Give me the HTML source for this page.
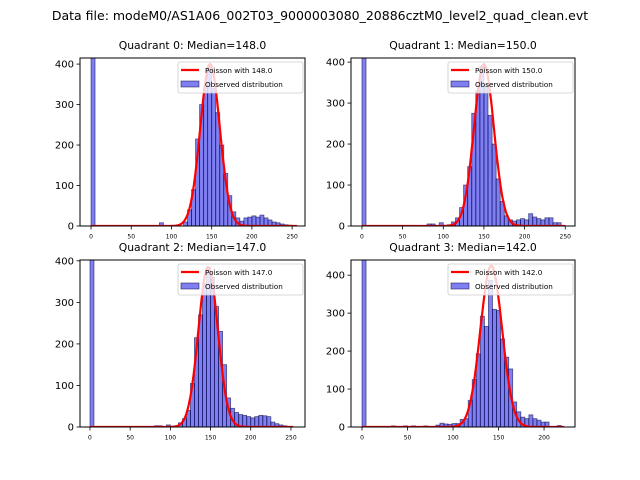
<!DOCTYPE html>
<html><head><meta charset="utf-8">
<style>
body{margin:0;background:#fff;}
svg{display:block;font-family:"DejaVu Sans","Liberation Sans",sans-serif;}
</style></head>
<body>
<svg id="fig" width="640" height="480" viewBox="0 0 640 480">
<text x="320" y="20" text-anchor="middle" font-size="12.5">Data file: modeM0/AS1A06_002T03_9000003080_20886cztM0_level2_quad_clean.evt</text>
</svg>
<script>
// Quadrant data
const titles = ["Quadrant 0: Median=148.0","Quadrant 1: Median=150.0","Quadrant 2: Median=147.0","Quadrant 3: Median=142.0"];
const medians = [148,150,147,142];
const peaks = [400,395,385,425];
const binW = [5,5,5,4.44];
const q0Bins = [0,85,115,120,125,130,135,140,145,150,155,160,165,170,175,180,185,190,195,200,205,210,215,220,225,230,235,240,245];
const q0Counts = [1000,8,10,40,90,215,300,345,395,340,280,200,130,75,35,20,12,20,22,25,22,27,20,15,10,8,5,3,2];
const q1Bins = [0,80,85,95,105,110,115,120,125,130,135,140,145,150,155,160,165,170,175,180,185,190,195,200,205,210,215,220,225,230,235,240];
const q1Counts = [1000,5,5,8,3,10,20,45,100,145,275,330,390,345,270,200,115,60,25,15,12,15,18,15,30,22,18,15,20,20,8,8];
const q2Bins = [0,80,85,95,100,105,110,115,120,125,130,135,140,145,150,155,160,165,170,175,180,185,190,195,200,205,210,215,220,225,230,235,240,245];
const q2Counts = [1000,3,3,5,2,3,10,20,40,105,215,270,345,385,360,290,230,150,70,45,35,30,28,25,22,25,28,27,25,12,8,5,3,1];
const q3Bins = [0,32.2,45.6,54.4,67.8,81.1,85.6,90,94.4,98.9,103.3,107.8,112.2,116.7,121.1,125.5,130,134.4,138.9,143.3,147.8,152.2,156.7,161.1,165.5,170,174.4,178.9,183.3,187.8,192.2,196.7,201.1,214.4];
const q3Counts = [1000,3,3,3,3,5,10,8,7,9,9,20,22,70,125,193,292,265,386,310,307,232,184,153,66,40,26,22,32,22,18,13,13,4];
const xTicks = [[0,50,100,150,200,250],[0,50,100,150,200,250],[0,50,100,150,200,250],[0,50,100,150,200]];
const yTicks = [[0,100,200,300,400],[0,100,200,300,400],[0,100,200,300,400],[0,100,200,300,400]];
const xMax = [256,250,253,222];

const allBins=[q0Bins,q1Bins,q2Bins,q3Bins];
const allCounts=[q0Counts,q1Counts,q2Counts,q3Counts];
const boxes=[
 {l:80,r:305,t:58,b:226,x0:-13.7,x1:266,y1:415},
 {l:351,r:575,t:58,b:226,x0:-13.5,x1:262,y1:410},
 {l:80,r:305,t:260,b:427,x0:-12.4,x1:267.5,y1:402},
 {l:351,r:575,t:260,b:427,x0:-12.1,x1:234,y1:440}
];
const NS="http://www.w3.org/2000/svg";
const svg=document.getElementById('fig');
function mk(tag,attrs,parent){const e=document.createElementNS(NS,tag);for(const k in attrs)e.setAttribute(k,attrs[k]);(parent||svg).appendChild(e);return e;}
boxes.forEach((B,qi)=>{
  const g=mk('g',{});
  
  
  const sx=v=>B.l+(v-B.x0)/(B.x1-B.x0)*(B.r-B.l);
  const sy=v=>B.b-v/B.y1*(B.b-B.t);
  const clipId='clip'+qi;
  const cp=mk('clipPath',{id:clipId},g);
  mk('rect',{x:B.l,y:B.t,width:B.r-B.l,height:B.b-B.t},cp);
  const bars=mk('g',{'clip-path':'url(#'+clipId+')'},g);
  allBins[qi].forEach((b,i)=>{
    const c=allCounts[qi][i];
    const r=mk('rect',{x:sx(b),y:sy(c),width:sx(b+binW[qi])-sx(b),height:sy(0)-sy(c),fill:'rgba(0,0,230,0.5)',stroke:'rgba(0,0,60,0.6)','stroke-width':0.8},bars);
    
    
  });
  // Poisson curve (normal approximation)
  const lam=medians[qi];let d='';
  for(let x=0;x<=xMax[qi];x+=1){const y=peaks[qi]*Math.exp(-(x-lam)*(x-lam)/(2*lam));d+=(x?'L':'M')+sx(x).toFixed(1)+','+sy(y).toFixed(1);}
  const p=mk('path',{d:d,fill:'none',stroke:'#ff0000','stroke-width':2.2},bars);
  
  
  const fr=mk('rect',{x:B.l,y:B.t,width:B.r-B.l,height:B.b-B.t,fill:'none',stroke:'#000','stroke-width':1},g);
  
  
  xTicks[qi].forEach(t=>{
    mk('line',{x1:sx(t),x2:sx(t),y1:B.b,y2:B.b+3.5,stroke:'#000','stroke-width':0.8},g);
    const tx=mk('text',{x:sx(t),y:B.b+12.5,'font-size':6,'text-anchor':'middle'},g);tx.textContent=t;
    
    
  });
  yTicks[qi].forEach(t=>{
    mk('line',{x1:B.l,x2:B.l-3.5,y1:sy(t),y2:sy(t),stroke:'#000','stroke-width':0.8},g);
    const tx=mk('text',{x:B.l-6,y:sy(t)+3.5,'font-size':10,'text-anchor':'end'},g);tx.textContent=t;
    
    
  });
  const tt=mk('text',{x:(B.l+B.r)/2,y:B.t-9,'font-size':10.8,'text-anchor':'middle'},g);tt.textContent=titles[qi];
  
  
  // legend
  const lg=mk('g',{},g);
  
  
  const lx=B.r-127,ly=B.t+4;
  mk('rect',{x:lx,y:ly,width:125,height:31,rx:2,fill:'rgba(255,255,255,0.8)',stroke:'#ccc','stroke-width':0.8},lg);
  mk('line',{x1:lx+3,x2:lx+21,y1:ly+8,y2:ly+8,stroke:'#ff0000','stroke-width':2.2},lg);
  const t1=mk('text',{x:lx+27,y:ly+11,'font-size':7.2},lg);t1.textContent='Poisson with '+medians[qi].toFixed(1);
  
  
  mk('rect',{x:lx+3,y:ly+19,width:18,height:6,fill:'rgba(0,0,230,0.5)',stroke:'rgba(0,0,60,0.6)','stroke-width':0.8},lg);
  const t2=mk('text',{x:lx+27,y:ly+25,'font-size':7.2},lg);t2.textContent='Observed distribution';
  
  
});
</script>
</body></html>
